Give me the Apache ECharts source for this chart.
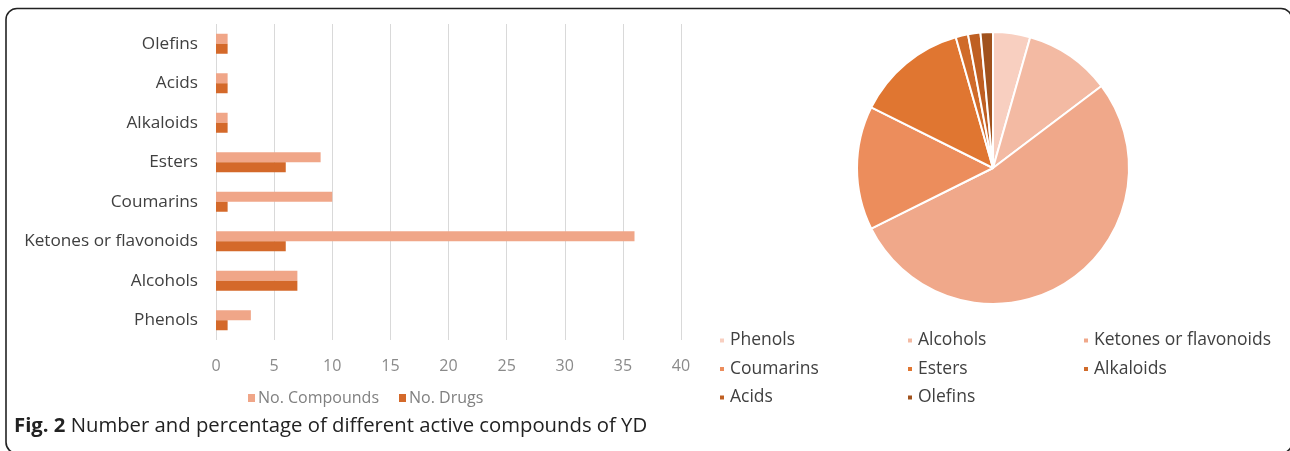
<!DOCTYPE html>
<html><head><meta charset="utf-8">
<script src="https://cdn.jsdelivr.net/npm/echarts@6/dist/echarts.min.js"></script>
<style>html,body{margin:0;padding:0;background:#fff}#c{width:1290px;height:451px}</style>
</head><body><div id="c"></div>
<script>
const categories = ['Phenols','Alcohols','Ketones or flavonoids','Coumarins','Esters','Alkaloids','Acids','Olefins'];
const compounds = [3, 7, 36, 10, 9, 1, 1, 1];
const drugs = [1, 7, 6, 1, 6, 1, 1, 1];
const xTicks = {min: 0, max: 40, interval: 5};
const pieColors = ['#F8CFC0','#F3BAA3','#F0A88A','#EC8D5C','#E07631','#D06B2A','#BF5F22','#A0521D'];
const seriesNames = ['No. Compounds','No. Drugs'];
const caption = 'Number and percentage of different active compounds of YD';

const chart = echarts.init(document.getElementById('c'), null, {renderer:'canvas'});
const font = 'Open Sans';
const legText = {color:'#404040', fontSize:17.5, fontFamily:font, lineHeight:21};
chart.setOption({
  animation:false,
  textStyle:{fontFamily:font},
  grid:{left:216, right:609, top:24, bottom:111, containLabel:false},
  xAxis:{type:'value', min:xTicks.min, max:xTicks.max, interval:xTicks.interval,
    axisLine:{show:false}, axisTick:{show:false},
    splitLine:{lineStyle:{color:'#d9d9d9', width:1}},
    axisLabel:{color:'#8a8a8a', fontSize:16, margin:18, fontFamily:font}},
  yAxis:{type:'category', data:categories,
    axisLine:{show:false}, axisTick:{show:false},
    axisLabel:{color:'#404040', fontSize:17.2, margin:18, fontFamily:font}},
  legend:[
    {data:seriesNames, left:243, top:385, itemWidth:7, itemHeight:8, itemGap:20, icon:'rect',
     textStyle:{color:'#808080', fontSize:16, fontFamily:font, padding:[0,0,0,-2]}},
    {data:[categories[0],categories[3],categories[6]], orient:'vertical', left:713, top:325, itemWidth:6, itemHeight:6, itemGap:7.5, icon:'rect', textStyle:legText},
    {data:[categories[1],categories[4],categories[7]], orient:'vertical', left:901, top:325, itemWidth:6, itemHeight:6, itemGap:7.5, icon:'rect', textStyle:legText},
    {data:[categories[2],categories[5]], orient:'vertical', left:1077, top:325, itemWidth:6, itemHeight:6, itemGap:7.5, icon:'rect', textStyle:legText}
  ],
  series:[
    {name:seriesNames[0], type:'bar', data:compounds, barWidth:10, barGap:'0%', itemStyle:{color:'#F0A688'}},
    {name:seriesNames[1], type:'bar', data:drugs, barWidth:10, barGap:'0%', itemStyle:{color:'#D4692A'}},
    {name:'pie', type:'pie', center:[993,168], radius:136, startAngle:90, clockwise:true,
     label:{show:false}, labelLine:{show:false},
     itemStyle:{borderColor:'#fff', borderWidth:2},
     data:categories.map((c,i)=>({name:c, value:compounds[i], itemStyle:{color:pieColors[i]}}))}
  ],
  graphic:[
    {type:'rect', shape:{x:6, y:8.5, width:1286, height:444.8, r:11}, style:{fill:'none', stroke:'#222', lineWidth:1.6}, silent:true},
    {type:'text', left:14, top:416, style:{text:'{b|Fig. 2} '+caption, fontSize:20.3, fontFamily:font, fill:'#222',
      rich:{b:{fontWeight:'bold', fontSize:20.3, fontFamily:font, fill:'#222'}}}}
  ]
});
</script></body></html>
